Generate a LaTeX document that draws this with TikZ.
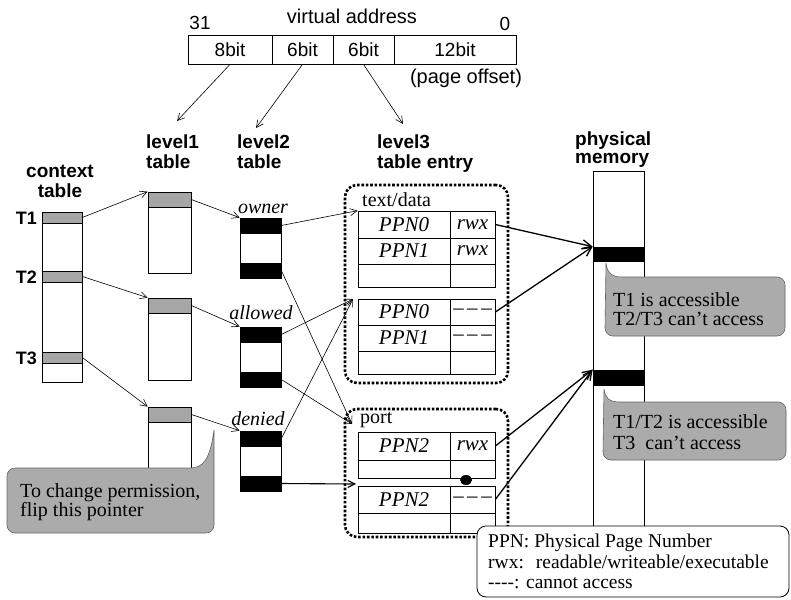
\documentclass[tikz,border=0pt]{standalone}
\usepackage{fontspec}
\setmainfont{Liberation Serif}
\setsansfont{Liberation Sans}
\usetikzlibrary{arrows.meta,calc,shapes.geometric}
\newcommand{\tridash}{\textendash\,\textendash\,\textendash}
\begin{document}
\begin{tikzpicture}[x=1pt,y=-1pt,
  box/.style={draw,line width=0.7pt,inner sep=0pt,fill=white},
  band/.style={draw,line width=0.7pt,inner sep=0pt,fill=black!35},
  blk/.style={draw,line width=0.7pt,inner sep=0pt,fill=black},
  cell/.style={draw,line width=0.7pt,inner sep=0pt,font=\itshape\fontsize{21}{23}\selectfont},
  hdr/.style={font=\sffamily\bfseries\fontsize{19}{22}\selectfont,inner sep=0pt},
  tlab/.style={font=\sffamily\bfseries\fontsize{18}{20}\selectfont,inner sep=0pt},
  vatext/.style={font=\sffamily\fontsize{19}{21}\selectfont,inner sep=0pt},
  rmtext/.style={font=\rmfamily\fontsize{20}{22}\selectfont,inner sep=0pt},
  legtext/.style={font=\rmfamily\fontsize{19.5}{22}\selectfont,inner sep=0pt},
  ittext/.style={font=\itshape\fontsize{20}{22}\selectfont,inner sep=0pt},
  ptr/.style={line width=0.6pt,-{Straight Barb[length=7pt,width=7pt]}},
  mptr/.style={line width=1.3pt,-{Straight Barb[length=9pt,width=9pt]}},
  dotbox/.style={draw,line width=2.6pt,dash pattern=on 2.6pt off 1.8pt,rounded corners=12pt,inner sep=0pt},
  callout/.style={fill=black!33,draw=black!60,line width=0.6pt},
]
\useasboundingbox (0,0) rectangle (791,599);
\fill[white] (0,0) rectangle (791,599);

% virtual address
\node[box,vatext,minimum width=84pt,minimum height=29pt] (va8) at (230,49.5) {8bit};
\node[box,vatext,minimum width=61pt,minimum height=29pt] (va6a) at (302.5,49.5) {6bit};
\node[box,vatext,minimum width=61pt,minimum height=29pt] (va6b) at (363.5,49.5) {6bit};
\node[box,vatext,minimum width=122pt,minimum height=29pt] (va12) at (455,49.5) {12bit};
\node[vatext,font=\sffamily\fontsize{20}{22}\selectfont,anchor=base] (vatitle) at (352,24) {virtual address};
\node[vatext,anchor=base] (lbl31) at (200,30) {31};
\node[vatext,anchor=base] (lbl0) at (505,31) {0};
\node[vatext,font=\sffamily\fontsize{20}{22}\selectfont,anchor=base] (poff) at (466,84) {(page offset)};
\coordinate (e1) at (177,121);
\coordinate (e2) at (256,128);
\coordinate (e3) at (403,124);
\draw[ptr] (va8.south) -- (e1);
\draw[ptr] (va6a.south) -- (e2);
\draw[ptr] (va6b.south) -- (e3);

% headers
\node[hdr,anchor=base] (ctxl1) at (60,177) {context};
\node[hdr,anchor=base] (ctxl2) at (60,197) {table};
\node[hdr,anchor=base west] (l1l1) at (146,148) {level1};
\node[hdr,anchor=base west] (l1l2) at (146,168) {table};
\node[hdr,anchor=base west] (l2l1) at (237,148) {level2};
\node[hdr,anchor=base west] (l2l2) at (237,168) {table};
\node[hdr,anchor=base west] (l3l1) at (377,148) {level3};
\node[hdr,anchor=base west] (l3l2) at (377,168) {table entry};
\node[hdr,anchor=base west] (pm1) at (575,145) {physical};
\node[hdr,anchor=base west] (pm2) at (575,163) {memory};

% context table
\node[box,minimum width=40pt,minimum height=170pt] (ctx) at (62,297) {};
\node[band,minimum width=40pt,minimum height=11pt] (c1) at (62,217.5) {};
\node[band,minimum width=40pt,minimum height=11pt] (c2) at (62,276.5) {};
\node[band,minimum width=40pt,minimum height=11pt] (c3) at (62,357.5) {};
\node[tlab,anchor=base east] (tl1) at (37,224) {T1};
\node[tlab,anchor=base east] (tl2) at (37,283) {T2};
\node[tlab,anchor=base east] (tl3) at (37,364) {T3};

% level1 tables
\node[box,minimum width=43pt,minimum height=81pt] (l1a) at (169.5,232.5) {};
\node[band,minimum width=43pt,minimum height=15pt] (l1ab) at (169.5,199.5) {};
\node[box,minimum width=43pt,minimum height=82pt] (l1b) at (169.5,339) {};
\node[band,minimum width=43pt,minimum height=15pt] (l1bb) at (169.5,305.5) {};
\node[box,minimum width=43pt,minimum height=80pt] (l1c) at (169.5,447) {};
\node[band,minimum width=43pt,minimum height=15pt] (l1cb) at (169.5,414.5) {};

% level2 tables
\node[box,minimum width=41pt,minimum height=60pt] (own) at (260.5,248) {};
\node[blk,minimum width=41pt,minimum height=15pt] (ownt) at (260.5,225.5) {};
\node[blk,minimum width=41pt,minimum height=15pt] (ownb) at (260.5,270.5) {};
\node[box,minimum width=41pt,minimum height=60pt] (alw) at (260.5,357) {};
\node[blk,minimum width=41pt,minimum height=15pt] (alwt) at (260.5,334.5) {};
\node[blk,minimum width=41pt,minimum height=15pt] (alwb) at (260.5,379.5) {};
\node[box,minimum width=41pt,minimum height=60pt] (den) at (260.5,461) {};
\node[blk,minimum width=41pt,minimum height=15pt] (dent) at (260.5,438.5) {};
\node[blk,minimum width=41pt,minimum height=15pt] (denb) at (260.5,483.5) {};
\node[ittext,anchor=base] (lown) at (263,213) {owner};
\node[ittext,anchor=base] (lalw) at (261,319) {allowed};
\node[ittext,anchor=base] (lden) at (258,425) {denied};

% level3 containers
\node[dotbox,minimum width=163pt,minimum height=198pt] (cont1) at (426.5,284) {};
\node[dotbox,minimum width=163pt,minimum height=128pt] (cont2) at (426.5,473) {};
\node[rmtext,anchor=base west] (td) at (362,206) {text/data};
\node[rmtext,anchor=base west] (pt) at (360,423) {port};

% table 1
\node[cell,minimum width=92pt,minimum height=27pt] (a11) at (404,224.5) {PPN0};
\node[cell,minimum width=45pt,minimum height=27pt] (b11) at (472.5,224.5) {rwx};
\node[cell,minimum width=92pt,minimum height=26pt] (a12) at (404,251) {PPN1};
\node[cell,minimum width=45pt,minimum height=26pt] (b12) at (472.5,251) {rwx};
\node[cell,minimum width=92pt,minimum height=23pt] (a13) at (404,275.5) {};
\node[cell,minimum width=45pt,minimum height=23pt] (b13) at (472.5,275.5) {};
% table 2
\node[cell,minimum width=92pt,minimum height=26pt] (a21) at (404,312) {PPN0};
\node[cell,minimum width=45pt,minimum height=26pt] (b21) at (472.5,312) {\tridash};
\node[cell,minimum width=92pt,minimum height=26pt] (a22) at (404,338) {PPN1};
\node[cell,minimum width=45pt,minimum height=26pt] (b22) at (472.5,338) {\tridash};
\node[cell,minimum width=92pt,minimum height=23pt] (a23) at (404,362.5) {};
\node[cell,minimum width=45pt,minimum height=23pt] (b23) at (472.5,362.5) {};
% table 3
\node[cell,minimum width=92pt,minimum height=28pt] (a31) at (404,446) {PPN2};
\node[cell,minimum width=45pt,minimum height=28pt] (b31) at (472.5,446) {rwx};
\node[cell,minimum width=92pt,minimum height=18pt] (a32) at (404,469) {};
\node[cell,minimum width=45pt,minimum height=18pt] (b32) at (472.5,469) {};
% table 4
\node[cell,minimum width=92pt,minimum height=27pt] (a41) at (404,499.5) {PPN2};
\node[cell,minimum width=45pt,minimum height=27pt] (b41) at (472.5,499.5) {\tridash};
\node[cell,minimum width=92pt,minimum height=20pt] (a42) at (404,523) {};
\node[cell,minimum width=45pt,minimum height=20pt] (b42) at (472.5,523) {};
\node[fill=black,ellipse,minimum width=12pt,minimum height=10pt,inner sep=0pt] (blob) at (466,480) {};

% physical memory
\node[box,minimum width=51pt,minimum height=370pt] (mem) at (618.5,356) {};
\node[blk,minimum width=51pt,minimum height=14pt] (mb1) at (618.5,254) {};
\node[blk,minimum width=51pt,minimum height=15pt] (mb2) at (618.5,377.5) {};

% pointers
\draw[ptr] (c1.east) -- (l1a.north west);
\draw[ptr] (c2.east) -- (l1b.north west);
\draw[ptr] (c3.east) -- (l1c.north west);
\draw[ptr] (l1ab.east) -- (own.north west);
\draw[ptr] (l1bb.east) -- (alw.north west);
\draw[ptr] (l1cb.east) -- (den.north west);
\coordinate (t2in) at (353,299);
\coordinate (portin) at (352,424);
\coordinate (t4in) at (356,484);
\draw[ptr] (ownt.east) -- (a11.north west);
\draw[ptr] (ownb.east) -- (portin);
\draw[ptr] (alwt.east) -- (t2in);
\draw[ptr] (alwb.east) -- (portin);
\draw[ptr] (dent.east) -- (t2in);
\draw[ptr,line width=1.1pt] (denb.east) -- (t4in);
\draw[mptr] (b11.east) -- (mb1.north west);
\draw[mptr] (b21.east) -- (mb1.north west);
\draw[mptr] (b31.east) -- (mb2.north west);
\draw[mptr] (b41.east) -- (mb2.north west);

% callouts
\filldraw[callout] (606,263) .. controls (607,272) and (611,277) .. (622,277) -- (777,277) arc(-90:0:8) -- (785,328) arc(0:90:8) -- (613,336) arc(90:180:8) -- cycle;
\node[rmtext,anchor=base west] (ct1a) at (613,306) {T1 is accessible};
\node[rmtext,anchor=base west] (ct1b) at (613,325) {T2/T3 can't access};

\filldraw[callout] (604,389) .. controls (605,398) and (609,402) .. (620,402) -- (778,402) arc(-90:0:8) -- (786,452) arc(0:90:8) -- (611,460) arc(90:180:8) -- cycle;
\node[rmtext,anchor=base west] (ct2a) at (613,428) {T1/T2 is accessible};
\node[rmtext,anchor=base west] (ct2b) at (613,449) {T3\ \ can't access};

\filldraw[callout] (214,430) -- (214,525) arc(0:90:8) -- (15,533) arc(90:180:8) -- (7,476) arc(180:270:8) -- (190,468) .. controls (203,468) and (210,460) .. (214,430) -- cycle;
\node[rmtext,anchor=base west] (ct3a) at (20,497) {To change permission,};
\node[rmtext,anchor=base west] (ct3b) at (20,516) {flip this pointer};

% legend
\node[draw,fill=white,rounded corners=9pt,line width=0.8pt,minimum width=312pt,minimum height=71pt,inner sep=0pt] (leg) at (633,561.5) {};
\node[legtext,anchor=base west] (lg1) at (488,547) {PPN: Physical Page Number};
\node[legtext,anchor=base west] (lg2) at (488,568) {rwx:\hspace{12pt}readable/writeable/executable};
\node[legtext,anchor=base west] (lg3) at (488,588) {-{}-{}-{}-: cannot access};
\end{tikzpicture}
\end{document}
